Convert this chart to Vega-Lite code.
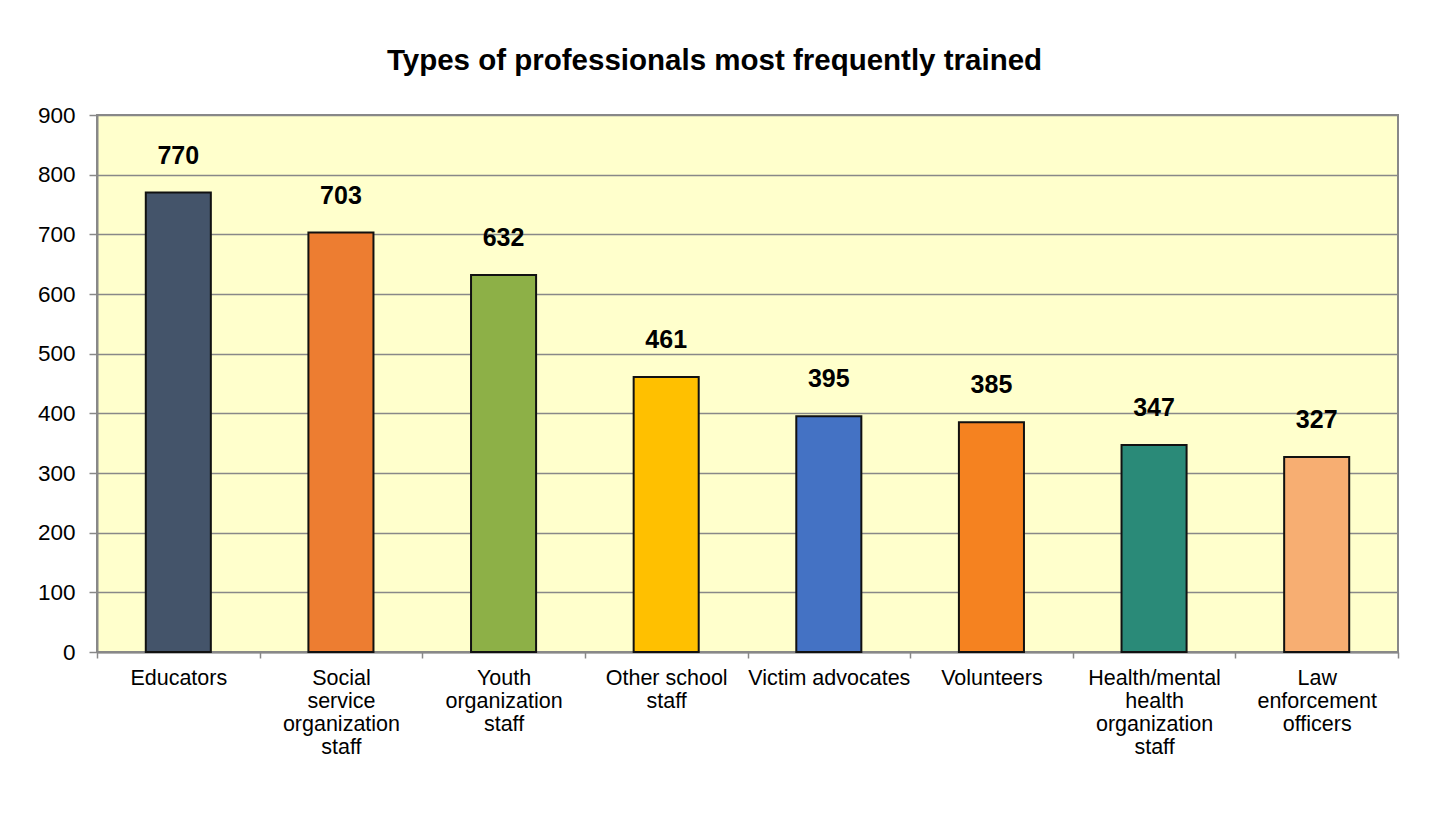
{
  "$schema": "https://vega.github.io/schema/vega-lite/v6.json",
  "width": 1301,
  "height": 537,
  "autosize": {"type": "none"},
  "padding": {"left": 97, "top": 115, "right": 52, "bottom": 166},
  "background": "white",
  "title": {
    "text": "Types of professionals most frequently trained",
    "font": "Liberation Sans",
    "fontSize": 29.5,
    "fontWeight": "bold",
    "color": "black",
    "anchor": "middle",
    "baseline": "alphabetic",
    "dx": -33,
    "offset": 5
  },
  "data": {
    "values": [
      {"type": "Educators", "count": 770},
      {"type": "Social service organization staff", "count": 703},
      {"type": "Youth organization staff", "count": 632},
      {"type": "Other school staff", "count": 461},
      {"type": "Victim advocates", "count": 395},
      {"type": "Volunteers", "count": 385},
      {"type": "Health/mental health organization staff", "count": 347},
      {"type": "Law enforcement officers", "count": 327}
    ]
  },
  "encoding": {
    "x": {
      "field": "type",
      "type": "nominal",
      "sort": null,
      "scale": {"paddingInner": 0, "paddingOuter": 0},
      "axis": {
        "title": null,
        "labelAngle": 0,
        "labelFont": "Liberation Sans",
        "labelFontSize": 21.5,
        "labelColor": "black",
        "labelLineHeight": 23,
        "labelBaseline": "top",
        "labelPadding": 9,
        "labelExpr": "datum.label == 'Social service organization staff' ? ['Social','service','organization','staff'] : datum.label == 'Youth organization staff' ? ['Youth','organization','staff'] : datum.label == 'Other school staff' ? ['Other school','staff'] : datum.label == 'Health/mental health organization staff' ? ['Health/mental','health','organization','staff'] : datum.label == 'Law enforcement officers' ? ['Law','enforcement','officers'] : datum.label",
        "tickBand": "extent",
        "tickSize": 6,
        "tickColor": "#888888",
        "tickWidth": 1.5,
        "domainColor": "#888888",
        "domainWidth": 2,
        "grid": false
      }
    }
  },
  "layer": [
    {
      "mark": {"type": "bar", "width": {"band": 0.4}, "stroke": "#111111", "strokeWidth": 2},
      "encoding": {
        "y": {
          "field": "count",
          "type": "quantitative",
          "scale": {"domain": [0, 900], "nice": false},
          "axis": {
            "title": null,
            "values": [0, 100, 200, 300, 400, 500, 600, 700, 800, 900],
            "labelFont": "Liberation Sans",
            "labelFontSize": 22.5,
            "labelColor": "black",
            "labelPadding": 14,
            "tickSize": 8,
            "tickColor": "#888888",
            "tickWidth": 1.5,
            "domainColor": "#888888",
            "domainWidth": 2,
            "grid": true,
            "gridColor": "#888888",
            "gridWidth": 1.5
          }
        },
        "color": {
          "field": "type",
          "type": "nominal",
          "legend": null,
          "scale": {
            "domain": ["Educators", "Social service organization staff", "Youth organization staff", "Other school staff", "Victim advocates", "Volunteers", "Health/mental health organization staff", "Law enforcement officers"],
            "range": ["#44546A", "#ED7D31", "#8DB047", "#FFC000", "#4472C4", "#F58220", "#2A8A78", "#F7AE72"]
          }
        }
      }
    },
    {
      "mark": {"type": "text", "font": "Liberation Sans", "fontSize": 25, "fontWeight": "bold", "color": "black", "baseline": "alphabetic", "dy": -29},
      "encoding": {
        "y": {"field": "count", "type": "quantitative"},
        "text": {"field": "count", "type": "quantitative"}
      }
    }
  ],
  "config": {
    "view": {"fill": "#FFFFCC", "stroke": "#888888", "strokeWidth": 2}
  }
}
